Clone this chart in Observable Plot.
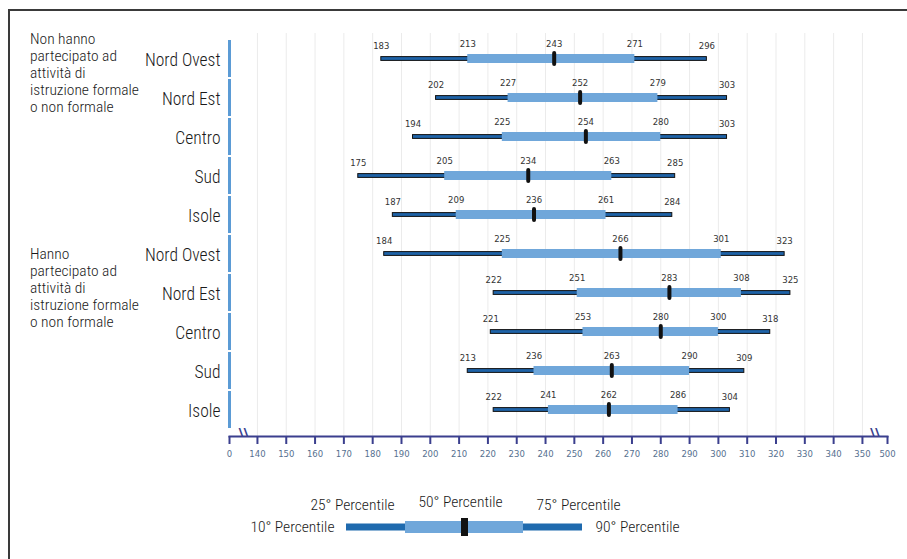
<!DOCTYPE html>
<html><head><meta charset="utf-8">
<script src="https://cdn.jsdelivr.net/npm/d3@7"></script>
<script src="https://cdn.jsdelivr.net/npm/@observablehq/plot@0.6"></script>
<style>
body{margin:0;background:#fff;}
#wrap{position:relative;width:907px;height:559px;overflow:hidden;background:#fff;}
#main{position:absolute;left:0;top:0;}
#legend{position:absolute;left:0;top:470px;}
.fr{position:absolute;background:#3a3a3a;}
.grp{position:absolute;left:30px;font-family:"Roboto Condensed","Noto Sans Condensed","Open Sans Condensed","Liberation Sans Narrow","DejaVu Sans Condensed",sans-serif;font-stretch:condensed;font-weight:300;font-size:15.5px;line-height:17px;color:#1a1a1a;}
svg g[font-family*="Condensed"], svg text[font-family*="Condensed"]{font-stretch:condensed;}
</style></head>
<body><div id="wrap">
<div id="main"></div>
<div id="legend"></div>
<div class="fr" style="left:8px;top:9px;width:899px;height:2px"></div>
<div class="fr" style="left:8px;top:9px;width:2px;height:550px"></div>
<div class="grp" id="g0" style="top:31px"></div>
<div class="grp" id="g1" style="top:246px"></div>
</div>
<script>
// ---- data ----
const groupLabels = [
  ["Non hanno", "partecipato ad", "attività di", "istruzione formale", "o non formale"],
  ["Hanno", "partecipato ad", "attività di", "istruzione formale", "o non formale"]
];
const regions = ["Nord Ovest", "Nord Est", "Centro", "Sud", "Isole"];
const p10 = [183, 202, 194, 175, 187, 184, 222, 221, 213, 222];
const p25 = [213, 227, 225, 205, 209, 225, 251, 253, 236, 241];
const p50 = [243, 252, 254, 234, 236, 266, 283, 280, 263, 262];
const p75 = [271, 279, 280, 263, 261, 301, 308, 300, 290, 286];
const p90 = [296, 303, 303, 285, 284, 323, 325, 318, 309, 304];
const tickValues = [140,150,160,170,180,190,200,210,220,230,240,250,260,270,280,290,300,310,320,330,340,350];
const tickLabels = ["0","140","150","160","170","180","190","200","210","220","230","240","250","260","270","280","290","300","310","320","330","340","350","500"];
const legendStops = ["10°", "25°", "50°", "75°", "90°"];
const legendSuffix = " Percentile";

// ---- layout ----
const breakLo = 130.3, breakHi = 358.7; // where the broken-axis ends "0" and "500" sit
const navy = "#3b3f8e";
const darkBlue = "#1f63a8";
const lightBlue = "#70a7da";
const narrow = "Roboto Condensed, Noto Sans Condensed, Open Sans Condensed, Liberation Sans Narrow, DejaVu Sans Condensed, sans-serif";

document.getElementById("g0").innerHTML = groupLabels[0].join("<br>");
document.getElementById("g1").innerHTML = groupLabels[1].join("<br>");

const rows = p10.map((_, i) => ({
  key: i, region: regions[i % 5],
  p10: p10[i], p25: p25[i], p50: p50[i], p75: p75[i], p90: p90[i]
}));

const tickPos = [breakLo, ...tickValues, breakHi];
const labelOf = new Map(tickPos.map((v, i) => [v, tickLabels[i]]));

const main = Plot.plot({
  width: 907, height: 470,
  marginLeft: 229, marginRight: 20, marginTop: 33, marginBottom: 34,
  style: {background: "transparent"},
  x: {domain: [breakLo, breakHi], axis: null},
  y: {type: "band", domain: rows.map(d => d.key), range: [35, 433], padding: 0, axis: null},
  marks: [
    Plot.ruleX(tickValues, {stroke: "#ebebeb", strokeWidth: 1}),
    Plot.tickX(rows, {x: () => breakLo, y: "key", stroke: "#5b9bd5", strokeWidth: 3, insetTop: 1, insetBottom: 1}),
    Plot.barX(rows, {x1: "p10", x2: "p90", y: "key", fill: darkBlue, stroke: "#111", strokeWidth: 1, insetTop: 17.6, insetBottom: 17.6}),
    Plot.barX(rows, {x1: "p25", x2: "p75", y: "key", fill: lightBlue, insetTop: 15, insetBottom: 15}),
    Plot.tickX(rows, {x: "p50", y: "key", stroke: "#111", strokeWidth: 4, strokeLinecap: "round", insetTop: 14, insetBottom: 14}),
    Plot.text(rows, {x: "p10", y: "key", text: d => String(d.p10), dy: -12.5, fontSize: 8.5, fontFamily: "DejaVu Sans", fill: "#333"}),
    Plot.text(rows, {x: "p25", y: "key", text: d => String(d.p25), dy: -15, fontSize: 8.5, fontFamily: "DejaVu Sans", fill: "#333"}),
    Plot.text(rows, {x: "p50", y: "key", text: d => String(d.p50), dy: -15, fontSize: 8.5, fontFamily: "DejaVu Sans", fill: "#333"}),
    Plot.text(rows, {x: "p75", y: "key", text: d => String(d.p75), dy: -15, fontSize: 8.5, fontFamily: "DejaVu Sans", fill: "#333"}),
    Plot.text(rows, {x: "p90", y: "key", text: d => String(d.p90), dy: -12.5, fontSize: 8.5, fontFamily: "DejaVu Sans", fill: "#333"}),
    Plot.text(rows, {y: "key", frameAnchor: "left", text: "region", textAnchor: "end", dx: -9, dy: 1.5, fontSize: 17.5, fontWeight: 300, fontFamily: narrow, fill: "#1a1a1a"}),
    Plot.frame({anchor: "bottom", stroke: navy, strokeWidth: 2}),
    Plot.axisX(tickPos, {anchor: "bottom", tickSize: 8, tickPadding: 6, stroke: navy, strokeWidth: 2, fill: "#56708f", fontSize: 8.5, fontFamily: "DejaVu Sans", tickFormat: d => labelOf.get(d)}),
    Plot.text([(breakLo + 140) / 2, (350 + breakHi) / 2], {x: d => d, frameAnchor: "bottom", text: () => "\\\\", fill: navy, fontSize: 12, fontWeight: "bold", dy: 0})
  ]
});
document.getElementById("main").appendChild(main);

const legend = Plot.plot({
  width: 907, height: 89,
  marginLeft: 345, marginRight: 325, marginTop: 51, marginBottom: 26,
  style: {background: "transparent"},
  x: {type: "point", domain: legendStops, padding: 0, axis: null},
  marks: [
    Plot.barX([0], {x1: () => legendStops[0], x2: () => legendStops[4], fill: "#1f6aae", insetTop: 2.5, insetBottom: 2.5}),
    Plot.barX([0], {x1: () => legendStops[1], x2: () => legendStops[3], fill: lightBlue}),
    Plot.ruleX([0], {x: () => legendStops[2], stroke: "#111", strokeWidth: 7, insetTop: -3, insetBottom: -3}),
    Plot.text([legendStops[0]], {x: d => d, text: d => d + legendSuffix, textAnchor: "end", dx: -12, fontSize: 15.5, fontWeight: 300, fontFamily: narrow, fill: "#1a1a1a"}),
    Plot.text([legendStops[4]], {x: d => d, text: d => d + legendSuffix, textAnchor: "start", dx: 13, fontSize: 15.5, fontWeight: 300, fontFamily: narrow, fill: "#1a1a1a"}),
    Plot.text([legendStops[1]], {x: d => d, text: d => d + legendSuffix, dx: -53, dy: -22, fontSize: 15.5, fontWeight: 300, fontFamily: narrow, fill: "#1a1a1a"}),
    Plot.text([legendStops[2]], {x: d => d, text: d => d + legendSuffix, dx: -4, dy: -25, fontSize: 15.5, fontWeight: 300, fontFamily: narrow, fill: "#1a1a1a"}),
    Plot.text([legendStops[3]], {x: d => d, text: d => d + legendSuffix, dx: 55, dy: -22, fontSize: 15.5, fontWeight: 300, fontFamily: narrow, fill: "#1a1a1a"})
  ]
});
document.getElementById("legend").appendChild(legend);
</script>
</body></html>
